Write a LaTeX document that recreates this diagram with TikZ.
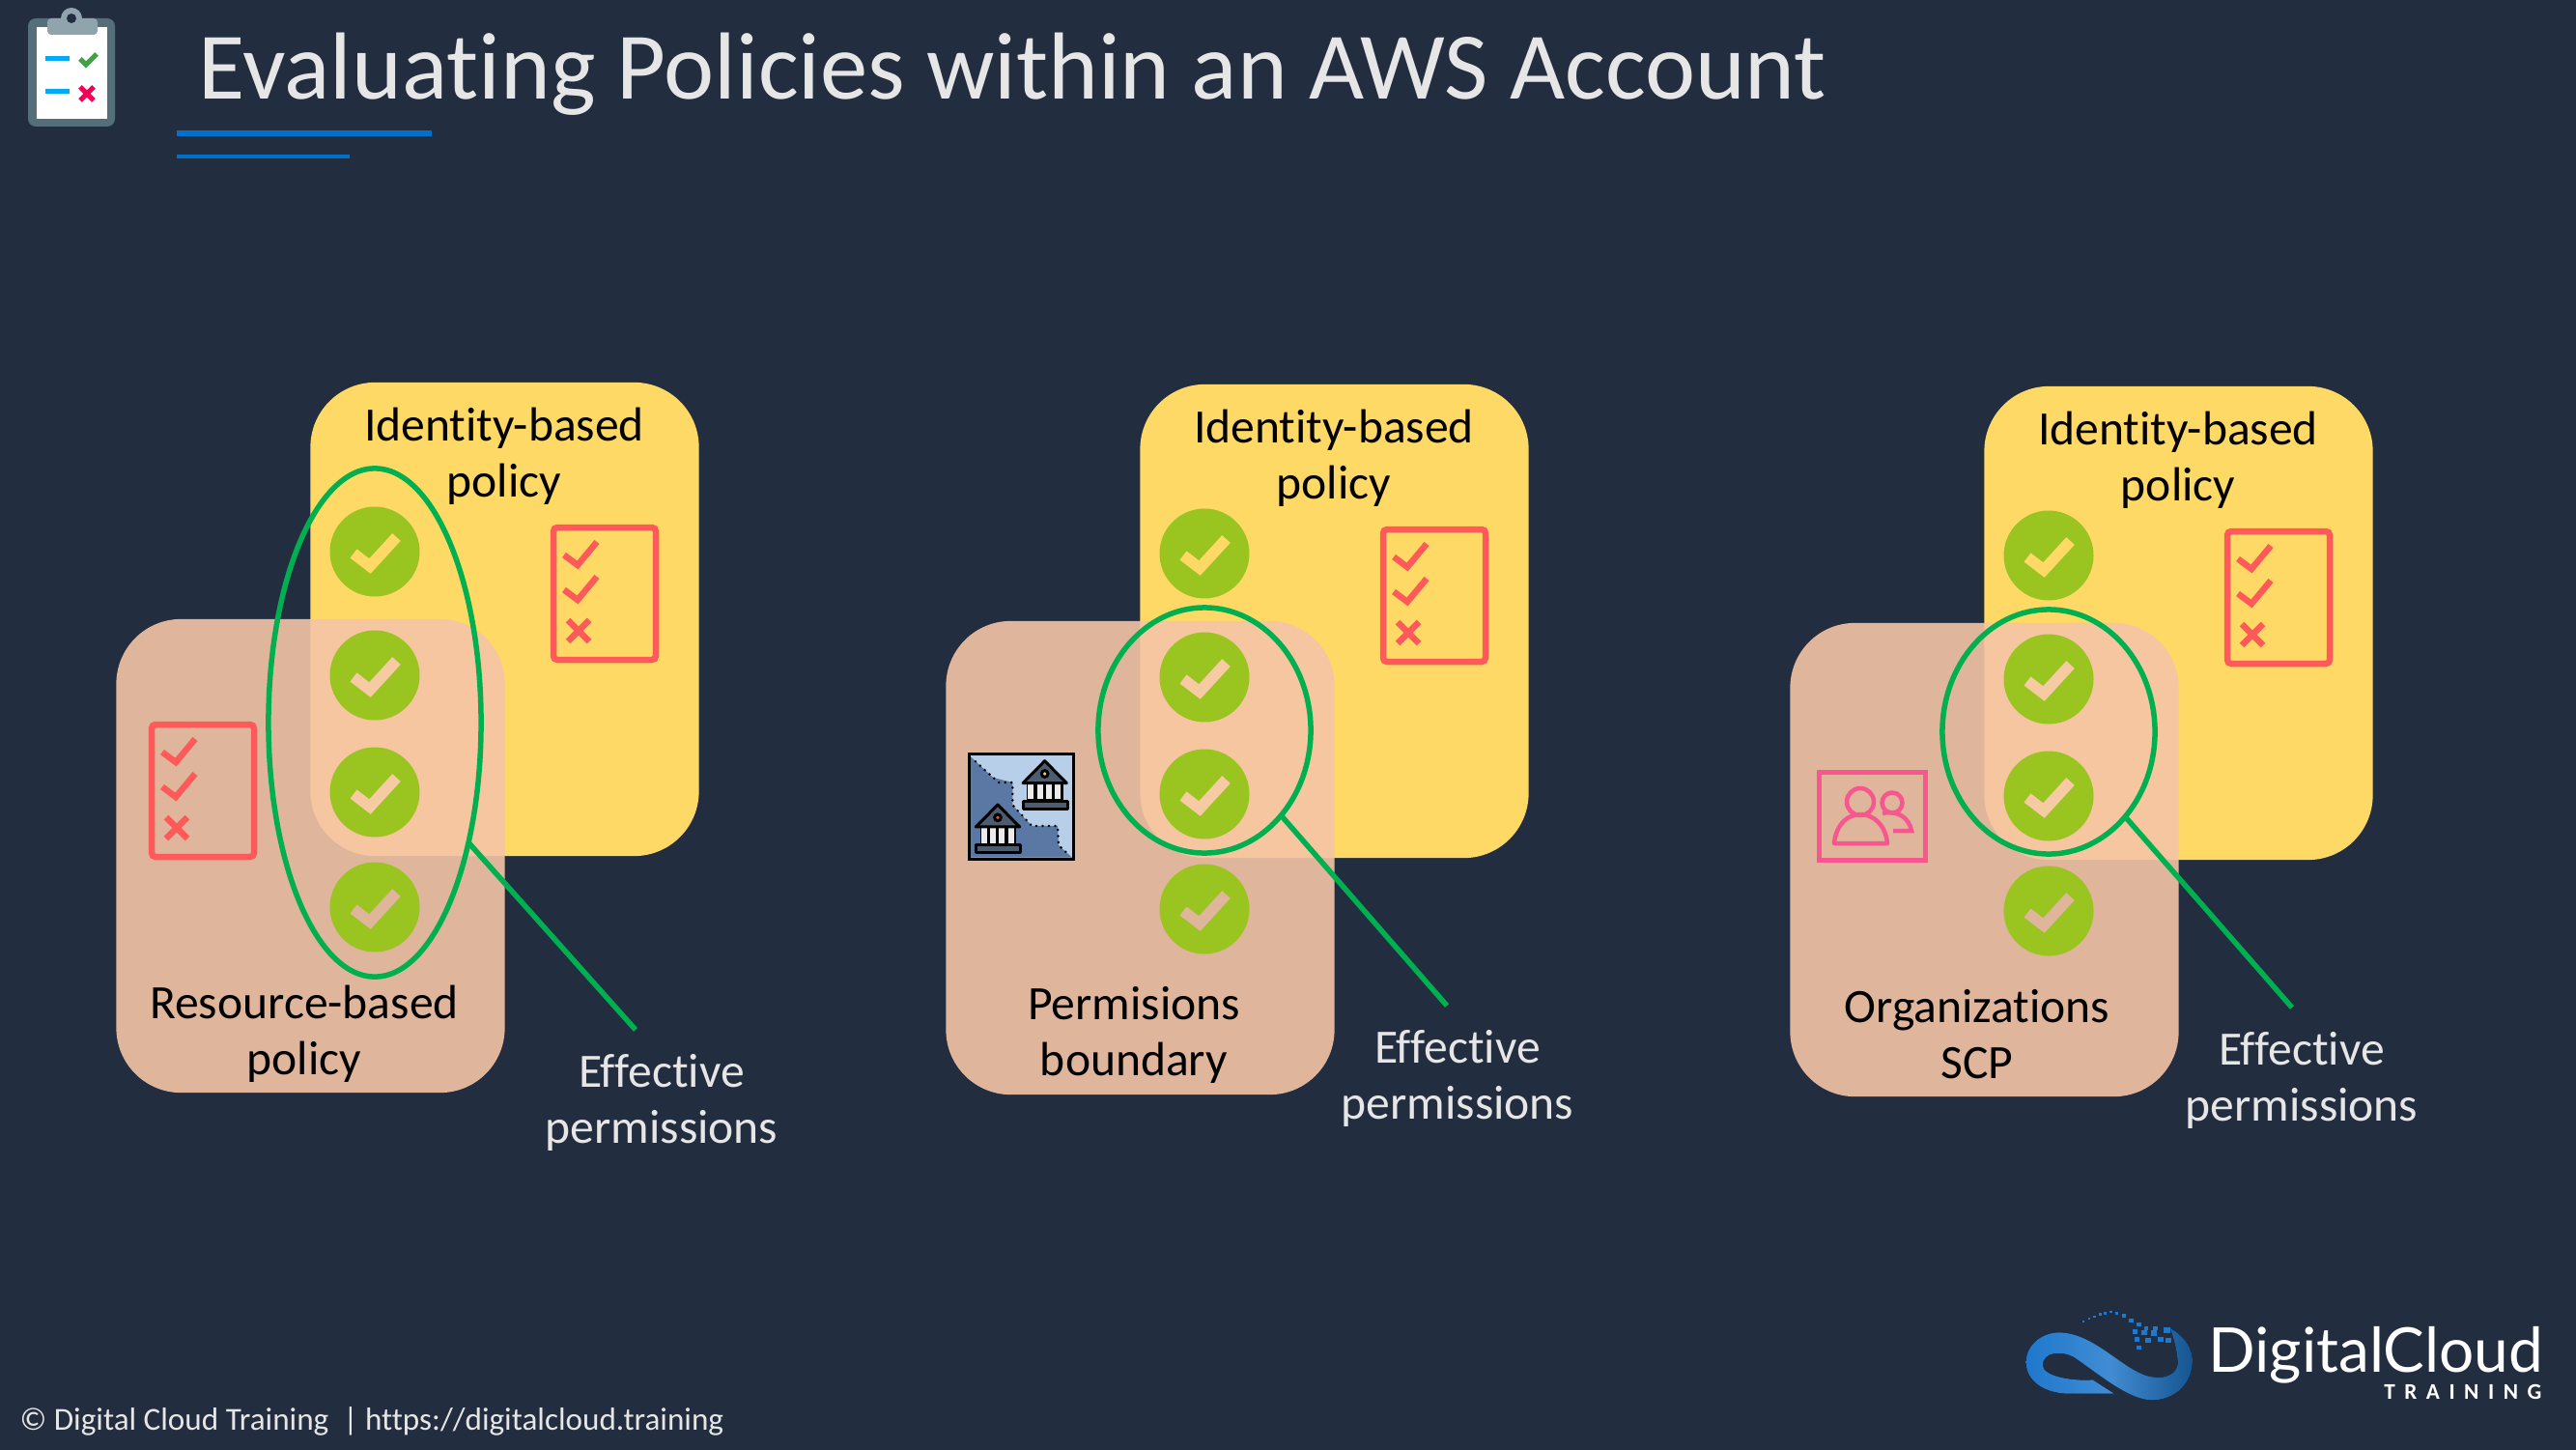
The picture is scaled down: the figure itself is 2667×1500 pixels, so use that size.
\documentclass[tikz,border=0pt]{standalone}
\usepackage{fontspec}
\setmainfont[Ligatures=NoCommon]{Carlito}
\newfontfamily\logofont{Lato}
\usetikzlibrary{shapes.geometric}
\definecolor{navybg}{HTML}{222D3F}
\definecolor{lighttext}{HTML}{E7E6E6}
\definecolor{titleblue}{HTML}{0070C8}
\definecolor{idyellow}{HTML}{FFD966}
\definecolor{boxpeach}{HTML}{F4C4A6}
\definecolor{plainpeach}{HTML}{DFB59C}
\definecolor{overlappeach}{HTML}{F6CAA2}
\definecolor{badgegreen}{HTML}{9AC420}
\definecolor{ovalgreen}{HTML}{00B050}
\definecolor{listred}{HTML}{FF5A5A}
\definecolor{scppink}{HTML}{F8568F}
\definecolor{roofgrey}{HTML}{4D5D6F}
\definecolor{logoblue}{HTML}{1F78CC}
\definecolor{clipdark}{HTML}{546E7A}
\definecolor{cliplight}{HTML}{90A4AE}
\definecolor{clipblue}{HTML}{03A9F4}
\definecolor{clipgreen}{HTML}{43A047}
\definecolor{clipred}{HTML}{F50057}
\definecolor{orgpale}{HTML}{B7CFE8}
\definecolor{orgdark}{HTML}{5B78A5}
\definecolor{lampgold}{HTML}{F0C87A}
\definecolor{lampred}{HTML}{E0524F}
\tikzset{
  policybox/.style={rounded corners=0.67cm,minimum width=4.02cm,minimum height=4.9cm,inner sep=0pt,outer sep=0pt},
  idbox/.style={policybox,fill=idyellow},
  otherbox/.style={policybox,fill=boxpeach,fill opacity=0.9},
  boxlabel/.style={align=center,text=black,font=\fontsize{14.1}{16.5}\selectfont,inner sep=0pt},
  efflabel/.style={align=center,text=lighttext,font=\fontsize{14.1}{16.5}\selectfont,inner sep=0pt},
  effoval/.style={ellipse,draw=ovalgreen,line width=0.055cm,minimum width=2.2cm,inner sep=0pt,outer sep=0pt},
  effline/.style={draw=ovalgreen,line width=0.055cm},
  pics/badge/.style={code={
    \fill[badgegreen] (0,0) circle (46.5);
    \draw[#1,line width=0.115cm] (-22,2) -- (-5,15) -- (22.5,-15);
  }},
  pics/checklist/.style={code={
    \draw[listred,line width=0.065cm,rounded corners=0.04cm] (-53,-68.5) rectangle (53,68.5);
    \draw[listred,line width=0.065cm] (-42,-40) -- (-28,-29.5) -- (-8,-53.5);
    \draw[listred,line width=0.065cm] (-42,-4) -- (-28,6.5) -- (-8,-17.5);
    \draw[listred,line width=0.065cm] (-38,27.5) -- (-16,49.5) (-16,27.5) -- (-38,49.5);
  }},
  pics/bank/.style={code={
    \fill[black] (-55,69) rectangle (57,122);
    \foreach \colx in {-43,-15,13,41}
      \fill[white!92!black] (\colx-9,72) rectangle (\colx+9,119);
    \draw[black,fill=roofgrey,line width=0.03cm,line join=round] (0,0) -- (68,69) -- (-68,69) -- cycle;
    \draw[black,fill=#1,line width=0.03cm] (0,40) circle (10);
    \draw[black,fill=roofgrey,line width=0.03cm,line join=round] (-68,125) rectangle (70,149);
  }}
}
\begin{document}
\begin{tikzpicture}[x=0.01cm,y=-0.01cm]
          \useasboundingbox (0,0) rectangle (2667,1500);
          \fill[navybg] (-5,-5) rectangle (2672,1505);

          \fill[clipdark,rounded corners=0.08cm] (29,19) rectangle (119,131);
          \fill[white] (38,28) rectangle (111,123);
          \fill[cliplight,rounded corners=0.04cm] (49,19) rectangle (101,36);
          \fill[cliplight] (74,19) circle (11);
          \fill[navybg] (74,19) circle (5);
          \draw[clipblue,line width=0.05cm] (47,61) -- (72,61);
          \draw[clipblue,line width=0.05cm] (47,95) -- (72,95);
          \draw[clipgreen,line width=0.05cm] (83,61) -- (89,67) -- (100,56);
          \draw[clipred,line width=0.05cm] (83,90) -- (97,104) (97,90) -- (83,104);

          \node[anchor=base west,inner sep=0pt,text=lighttext,font=\fontsize{28.05}{34}\selectfont] (title) at (205,103) {Evaluating Policies within an AWS Account};
          \fill[titleblue] (183,135) rectangle (447,141);
          \fill[titleblue] (183,160) rectangle (362,164);

          \node[idbox] (idA) at (522.5,641) {};
          \node[boxlabel] (idAlabel) at (522,472) {Identity-based\\policy};
          \pic at (626,614.5) {checklist};
          \node[otherbox] (resA) at (321.5,886) {};
          \node[boxlabel] (resAlabel) at (315,1070) {Resource-based\\policy};
          \pic at (210,818.5) {checklist};
          \pic at (388,571) {badge=idyellow};
          \pic at (388,699) {badge=overlappeach};
          \pic at (388,820) {badge=overlappeach};
          \pic at (388,939) {badge=plainpeach};
          \node[effoval,minimum height=5.26cm] (effA) at (388,748) {};
          \coordinate (effAend) at (658,1066);
          \draw[effline] (effA.-52) -- (effAend);
          \node[efflabel] (effAlabel) at (685,1141) {Effective\\permissions};

          \node[idbox] (idB) at (1381.5,643) {};
          \node[boxlabel] (idBlabel) at (1381,474) {Identity-based\\policy};
          \pic at (1485,616.5) {checklist};
          \node[otherbox] (permB) at (1180.5,888) {};
          \node[boxlabel] (permBlabel) at (1174,1071) {Permisions\\boundary};
          \begin{scope}[shift={(960,720)},scale=0.3333]
            \draw[black,fill=orgpale,line width=0.03cm] (130,181) rectangle (454,508);
            \fill[orgdark] (135,190) -- (205,255) -- (265,270) -- (265,340) -- (325,405) -- (405,405) -- (408,465) -- (450,503) -- (135,503) -- cycle;
            \draw[black,line width=0.028cm,line cap=round,dash pattern=on 0pt off 1.85pt] (150,205) -- (205,255) -- (222,270) -- (265,270) -- (265,340) -- (325,405) -- (405,405) -- (408,465) -- (435,490);
            \pic[scale=0.3333] at (365,203) {bank=lampgold};
            \pic[scale=0.3333] at (219,339) {bank=lampred};
          \end{scope}
          \pic at (1247,573) {badge=idyellow};
          \pic at (1247,701) {badge=overlappeach};
          \pic at (1247,822) {badge=overlappeach};
          \pic at (1247,941) {badge=plainpeach};
          \node[effoval,minimum height=2.54cm] (effB) at (1247,756) {};
          \coordinate (effBend) at (1498,1041);
          \draw[effline] (effB.-48.8) -- (effBend);
          \node[efflabel] (effBlabel) at (1509,1116) {Effective\\permissions};

          \node[idbox] (idC) at (2255.5,645) {};
          \node[boxlabel] (idClabel) at (2255,476) {Identity-based\\policy};
          \pic at (2359,618.5) {checklist};
          \node[otherbox] (scpC) at (2054.5,890) {};
          \node[boxlabel] (scpClabel) at (2047,1071) {Organizations\\SCP};
          \draw[scppink,line width=0.05cm] (1883,799) rectangle (1993,890);
          \draw[scppink,line width=0.045cm] (1926,830) circle (14);
          \draw[scppink,line width=0.045cm] (1959,831) circle (10.5);
          \draw[scppink,line width=0.045cm,line join=round] (1899,873) .. controls (1901,853) and (1913,843) .. (1926,843) .. controls (1939,843) and (1952,853) .. (1954,873) -- cycle;
          \draw[scppink,line width=0.045cm] (1949,842) .. controls (1966,838) and (1977,848) .. (1979,860) -- (1960,860);
          \pic at (2121,575) {badge=idyellow};
          \pic at (2121,703) {badge=overlappeach};
          \pic at (2121,824) {badge=overlappeach};
          \pic at (2121,943) {badge=plainpeach};
          \node[effoval,minimum height=2.53cm] (effC) at (2121,757.5) {};
          \coordinate (effCend) at (2373,1043);
          \draw[effline] (effC.-48.8) -- (effCend);
          \node[efflabel] (effClabel) at (2383,1118) {Effective\\permissions};

          \begin{scope}[shift={(2067,1330)},xscale=0.3827,yscale=0.3333]
            \fill[left color=logoblue,right color=logoblue!70!black,middle color=logoblue!85!white]
              (170,148) .. controls (260,150) and (330,250) .. (400,280)
              .. controls (450,300) and (495,280) .. (490,235)
              .. controls (488,200) and (480,170) .. (470,135)
              .. controls (510,160) and (532,200) .. (530,240)
              .. controls (528,310) and (480,358) .. (420,358)
              .. controls (360,358) and (280,280) .. (210,225)
              .. controls (180,205) and (125,205) .. (125,250)
              .. controls (125,285) and (210,300) .. (260,295)
              -- (318,338) -- (190,338)
              .. controls (130,335) and (80,300) .. (80,240)
              .. controls (80,190) and (120,148) .. (170,148) -- cycle;
            \foreach \dotx/\doty/\dotr in {235/115/3,250/105/3,265/98/3,280/92/4,295/88/4,310/84/4,325/88/5,345/95/6,365/110/6,385/122/6,405/135/6,430/135/7,460/140/9,375/145/7,400/148/8,425/150/8,380/170/7,410/172/8,445/170/8,465/172/8,385/195/6}
              \fill[logoblue] (\dotx-\dotr,\doty-\dotr) rectangle (\dotx+\dotr,\doty+\dotr);
          \end{scope}
          \node[anchor=base east,inner sep=0pt,text=white,font=\logofont\fontsize{18.2}{21}\selectfont] (logotext) at (2634,1420) {DigitalCloud};
          \node[anchor=base east,inner sep=0pt,text=white,font=\bfseries\fontsize{6.6}{8}\selectfont\addfontfeature{LetterSpace=41}] (logosub) at (2632,1448) {TRAINING};

          \node[anchor=base west,inner sep=0pt,text=lighttext,font=\fontsize{9.43}{11}\selectfont] (footer) at (20,1480) {© Digital Cloud Training\ \ | https://digitalcloud.training};
\end{tikzpicture}
\end{document}
